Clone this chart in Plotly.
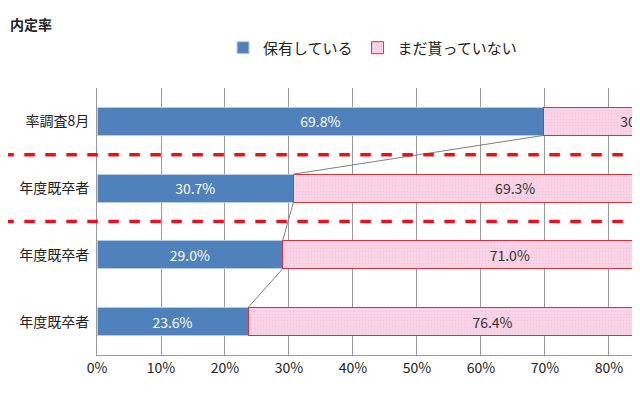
import plotly.graph_objects as go

categories = ["率調査8月", "年度既卒者", "年度既卒者", "年度既卒者"]
held = [69.8, 30.7, 29.0, 23.6]
not_yet = [30.2, 69.3, 71.0, 76.4]
x_ticks = [0, 10, 20, 30, 40, 50, 60, 70, 80]

ypos = list(range(len(categories)))
font = "Noto Sans CJK JP"
half = 0.21

fig = go.Figure()
fig.add_trace(go.Bar(
    name="保有している", y=ypos, x=held, orientation="h",
    marker=dict(color="#4f81bd", line=dict(color="#b9cde5", width=1)),
    text=[f"{v:.1f}%" for v in held], textposition="inside",
    insidetextanchor="middle", textfont=dict(color="white", size=14),
))
fig.add_trace(go.Bar(
    name="まだ貰っていない", y=ypos, x=not_yet, orientation="h",
    marker=dict(color="#fbd3e6", line=dict(color="#d9323c", width=1),
                pattern=dict(shape=".", fgcolor="#f2b6cf", size=3, solidity=0.2)),
    text=[f"{v:.1f}%" for v in not_yet], textposition="inside",
    insidetextanchor="middle", textfont=dict(color="#333333", size=14),
))

shapes = []
# connector lines between bar ends
for i in range(len(held) - 1):
    shapes.append(dict(type="line", xref="x", yref="y",
                       x0=held[i], y0=i + half, x1=held[i + 1], y1=i + 1 - half,
                       line=dict(color="#7f7f7f", width=1)))
# red dashed separators
for yv in (0.5, 1.5):
    shapes.append(dict(type="line", xref="paper", yref="y",
                       x0=-0.17, x1=1, y0=yv, y1=yv,
                       line=dict(color="#e3141b", width=3.5, dash="dash")))

fig.update_layout(
    barmode="stack", bargap=0.58,
    width=640, height=400,
    margin=dict(l=89, r=0, t=80, b=53, autoexpand=False),
    paper_bgcolor="white", plot_bgcolor="white",
    font=dict(family=font, size=13, color="#222222"),
    shapes=shapes,
    legend=dict(orientation="h", x=0.5, xanchor="center", y=1.15, yanchor="middle",
                font=dict(size=15), traceorder="normal"),
    annotations=[dict(text="<b>内定率</b>", xref="paper", yref="paper", x=-0.162, y=1.24,
                      xanchor="left", yanchor="middle", showarrow=False,
                      font=dict(size=14, color="#222222"))],
    xaxis=dict(range=[0, 86.1], tickvals=x_ticks, ticktext=[f"{v}%" for v in x_ticks],
               showgrid=True, gridcolor="#9a9a9a", gridwidth=1, zeroline=False,
               showline=True, linecolor="#9a9a9a", ticks="", tickfont=dict(size=14),
               automargin=False, fixedrange=True),
    yaxis=dict(range=[3.5, -0.5], tickvals=ypos, ticktext=categories,
               showgrid=False, zeroline=False, showline=True, linecolor="#9a9a9a",
               tickfont=dict(size=14), ticklabelstandoff=4, automargin=False),
)

fig.write_html("out.html")
